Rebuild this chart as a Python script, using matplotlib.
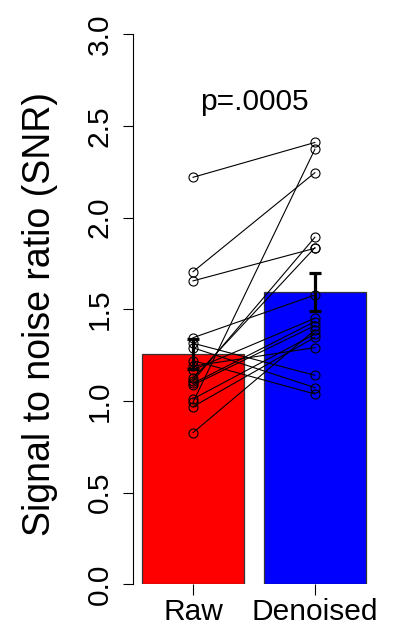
import numpy as np
import matplotlib
matplotlib.use("Agg")
import matplotlib.pyplot as plt

plt.rcParams['font.family'] = ['Liberation Sans', 'DejaVu Sans']

# paired SNR values, one per subject
groups = ['Raw', 'Denoised']
raw = [2.22, 1.705, 1.655, 0.993, 1.11, 1.124, 1.345, 0.827, 1.315,
       1.29, 1.22, 1.19, 1.17, 1.096, 1.087, 1.011, 0.969]
denoised = [2.41, 2.245, 1.833, 2.373, 1.893, 1.836, 1.578, 1.387, 1.14,
            1.073, 1.038, 1.291, 1.451, 1.433, 1.411, 1.365, 1.347]
bar_colors = ['#ff0000', '#0000ff']
p_text = 'p=.0005'
yticks = [0.0, 0.5, 1.0, 1.5, 2.0, 2.5, 3.0]

raw = np.array(raw)
denoised = np.array(denoised)
means = [raw.mean(), denoised.mean()]
sems = [raw.std(ddof=1) / np.sqrt(len(raw)), denoised.std(ddof=1) / np.sqrt(len(denoised))]

W, H = 409, 629
fig = plt.figure(figsize=(W / 100, H / 100), dpi=100)
ax = fig.add_axes([133.3 / W, (H - 584.3) / H, 241.3 / W, 550 / H])

xpos = [0.7, 1.9]
ax.bar(xpos, means, width=1.0, color=bar_colors, edgecolor='#333333', linewidth=0.9, zorder=1)

# lines joining each subject's two values
for r, d in zip(raw, denoised):
    ax.plot(xpos, [r, d], color='black', linewidth=0.8, zorder=2,
            marker='o', markersize=6.5, markerfacecolor='none',
            markeredgecolor='black', markeredgewidth=0.8)

ax.errorbar(xpos, means, yerr=sems, fmt='none', ecolor='black',
            elinewidth=2.3, capsize=4.3, capthick=2.3, zorder=3)

ax.text(1.3, 2.585, p_text, ha='center', va='baseline', fontsize=21.5)

ax.set_xlim(0.112, 2.488)
ax.set_ylim(0, 3)
ax.set_yticks(yticks)
ax.set_yticklabels([f'{t:.1f}' for t in yticks], rotation=90, va='center')
ax.set_xticks(xpos)
ax.set_xticklabels(groups)
ax.tick_params(axis='y', length=7.2, width=0.8, pad=7, labelsize=21.5)
ax.tick_params(axis='x', length=8, width=0.8, pad=2, labelsize=21.5)

for s in ['top', 'right', 'bottom']:
    ax.spines[s].set_visible(False)
ax.spines['left'].set_linewidth(0.8)

fig.text(40 / W, 1 - 314.5 / H, 'Signal to noise ratio (SNR)', rotation=90,
         ha='center', va='center', fontsize=27)

fig.savefig('out.png', dpi=100)
